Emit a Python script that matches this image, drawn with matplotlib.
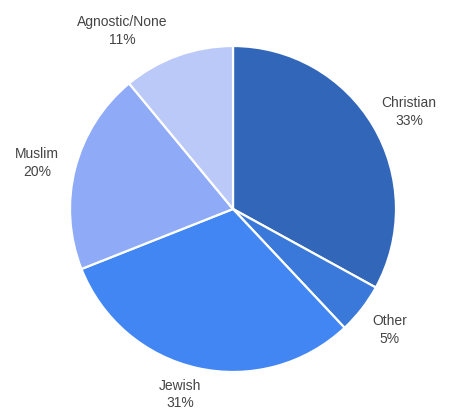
import matplotlib.pyplot as plt

plt.rcParams['font.family'] = ['Liberation Sans', 'DejaVu Sans']

# Religion shares
labels = ['Christian', 'Other', 'Jewish', 'Muslim', 'Agnostic/None']
shares = [33, 5, 31, 20, 11]
colors = ['#3166b9', '#3a78d9', '#4286f4', '#8fabf7', '#bbc9f9']

# label anchor points, in units of the pie radius from its centre
label_xy = [(1.08, 0.595), (0.963, -0.742), (-0.325, -1.14),
            (-1.202, 0.282), (-0.681, 1.092)]

W, H = 449, 409
cx, cy, r = 233, 209, 163

fig = plt.figure(figsize=(W / 100, H / 100), dpi=100)
ax = fig.add_axes([0, 0, 1, 1])

ax.pie(shares, colors=colors, startangle=90, counterclock=False, radius=1,
       wedgeprops=dict(edgecolor='white', linewidth=1.6))

for lab, val, (x, y) in zip(labels, shares, label_xy):
    ax.text(x, y, f'{lab}\n{val}%', ha='center', va='center',
            fontsize=10, color='#444444', linespacing=1.3)

ax.set_xlim(-cx / r, (W - cx) / r)
ax.set_ylim(-(H - cy) / r, cy / r)
ax.set_aspect('auto')
ax.set_axis_off()

plt.savefig('out.png', dpi=100)
